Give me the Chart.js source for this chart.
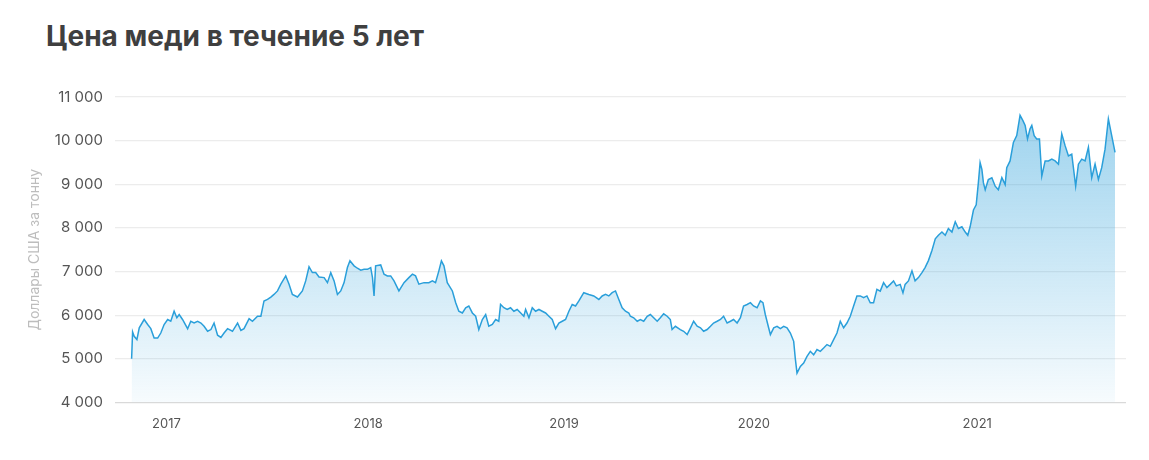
<!DOCTYPE html>
<html lang="ru">
<head>
<meta charset="utf-8">
<title>Цена меди в течение 5 лет</title>
<script src="https://cdn.jsdelivr.net/npm/chart.js@4.4.1/dist/chart.umd.min.js"></script>
<style>
  html, body { margin: 0; padding: 0; background: #fff; }
  .wrap { position: relative; width: 1149px; height: 460px; }
  .title {
    position: absolute; left: 46px; top: 19px;
    font-family: Inter, "Noto Sans", sans-serif; font-weight: 700;
    font-size: 28px; color: #3f3f3f; letter-spacing: 0px;
  }
  canvas { position: absolute; left: 0; top: 0; }
</style>
</head>
<body>
<div class="wrap">
  <div class="title">Цена меди в течение 5 лет</div>
  <canvas id="copper__graph" width="1149" height="460"></canvas>
</div>
<script>
// dates as decimal years, prices in USD per tonne
const dates = [
  2016.822, 2016.827, 2016.835, 2016.849, 2016.861, 2016.886, 2016.904, 2016.920, 2016.937, 2016.955,
  2016.971, 2016.988, 2017.006, 2017.022, 2017.039, 2017.053, 2017.065, 2017.082, 2017.108, 2017.124,
  2017.141, 2017.159, 2017.176, 2017.192, 2017.210, 2017.227, 2017.243, 2017.261, 2017.278, 2017.294,
  2017.312, 2017.337, 2017.363, 2017.380, 2017.396, 2017.422, 2017.439, 2017.465, 2017.482, 2017.498,
  2017.516, 2017.533, 2017.549, 2017.567, 2017.584, 2017.609, 2017.626, 2017.643, 2017.669, 2017.694,
  2017.711, 2017.728, 2017.745, 2017.762, 2017.779, 2017.805, 2017.822, 2017.839, 2017.856, 2017.873,
  2017.890, 2017.907, 2017.924, 2017.937, 2017.958, 2017.975, 2017.992, 2018.009, 2018.026, 2018.043,
  2018.052, 2018.060, 2018.068, 2018.094, 2018.111, 2018.128, 2018.145, 2018.162, 2018.187, 2018.213,
  2018.238, 2018.256, 2018.272, 2018.289, 2018.315, 2018.340, 2018.358, 2018.374, 2018.391, 2018.404,
  2018.417, 2018.434, 2018.460, 2018.477, 2018.493, 2018.511, 2018.528, 2018.544, 2018.562, 2018.579,
  2018.595, 2018.613, 2018.630, 2018.646, 2018.664, 2018.681, 2018.697, 2018.706, 2018.723, 2018.740,
  2018.757, 2018.774, 2018.791, 2018.809, 2018.825, 2018.834, 2018.851, 2018.868, 2018.885, 2018.902,
  2018.919, 2018.936, 2018.953, 2018.970, 2018.987, 2019.004, 2019.021, 2019.038, 2019.055, 2019.072,
  2019.089, 2019.106, 2019.131, 2019.157, 2019.182, 2019.208, 2019.225, 2019.242, 2019.259, 2019.276,
  2019.293, 2019.310, 2019.327, 2019.344, 2019.361, 2019.369, 2019.386, 2019.404, 2019.420, 2019.437,
  2019.455, 2019.471, 2019.488, 2019.506, 2019.522, 2019.539, 2019.557, 2019.573, 2019.582, 2019.599,
  2019.624, 2019.641, 2019.659, 2019.676, 2019.692, 2019.710, 2019.727, 2019.743, 2019.761, 2019.778,
  2019.794, 2019.812, 2019.829, 2019.845, 2019.863, 2019.880, 2019.896, 2019.914, 2019.931, 2019.947,
  2019.965, 2019.982, 2019.998, 2020.016, 2020.033, 2020.046, 2020.058, 2020.075, 2020.084, 2020.101,
  2020.118, 2020.135, 2020.152, 2020.169, 2020.186, 2020.203, 2020.211, 2020.220, 2020.237, 2020.254,
  2020.271, 2020.288, 2020.305, 2020.322, 2020.339, 2020.356, 2020.373, 2020.390, 2020.407, 2020.424,
  2020.441, 2020.458, 2020.475, 2020.492, 2020.509, 2020.526, 2020.543, 2020.560, 2020.577, 2020.594,
  2020.611, 2020.628, 2020.645, 2020.662, 2020.679, 2020.696, 2020.713, 2020.727, 2020.747, 2020.761,
  2020.772, 2020.789, 2020.807, 2020.823, 2020.840, 2020.858, 2020.874, 2020.891, 2020.909, 2020.926,
  2020.942, 2020.960, 2020.977, 2020.993, 2021.011, 2021.028, 2021.044, 2021.062, 2021.079, 2021.092,
  2021.104, 2021.121, 2021.135, 2021.146, 2021.155, 2021.164, 2021.172, 2021.181, 2021.197, 2021.215,
  2021.232, 2021.248, 2021.266, 2021.283, 2021.291, 2021.308, 2021.325, 2021.342, 2021.359, 2021.373,
  2021.385, 2021.397, 2021.410, 2021.419, 2021.431, 2021.444, 2021.458, 2021.470, 2021.487, 2021.504,
  2021.521, 2021.538, 2021.555, 2021.572, 2021.589, 2021.606, 2021.623, 2021.643, 2021.657, 2021.674,
  2021.691, 2021.708, 2021.725, 2021.742, 2021.759, 2021.776, 2021.793, 2021.810, 2021.827, 2021.844
];

const prices = [
  5000, 5615, 5515, 5440, 5710, 5900, 5785, 5690, 5475, 5475,
  5590, 5785, 5900, 5860, 6090, 5940, 6015, 5900, 5690, 5860,
  5820, 5860, 5820, 5745, 5630, 5670, 5820, 5540, 5490, 5590,
  5690, 5630, 5820, 5650, 5690, 5920, 5860, 5975, 5975, 6325,
  6360, 6415, 6475, 6555, 6710, 6900, 6710, 6475, 6415, 6555,
  6785, 7110, 6975, 6975, 6875, 6860, 6745, 6975, 6785, 6475,
  6555, 6745, 7090, 7245, 7130, 7075, 7030, 7050, 7050, 7090,
  6860, 6440, 7130, 7150, 6940, 6900, 6900, 6785, 6555, 6745,
  6860, 6940, 6900, 6710, 6745, 6745, 6785, 6745, 7015, 7245,
  7130, 6745, 6555, 6285, 6090, 6050, 6170, 6210, 6050, 5975,
  5670, 5900, 6015, 5745, 5785, 5900, 5860, 6245, 6170, 6130,
  6170, 6090, 6130, 6050, 5975, 6130, 5940, 6170, 6090, 6130,
  6090, 6050, 5975, 5900, 5690, 5820, 5860, 5900, 6090, 6245,
  6210, 6325, 6515, 6475, 6440, 6360, 6440, 6475, 6440, 6515,
  6555, 6360, 6170, 6090, 6050, 5975, 5940, 5860, 5900, 5860,
  5975, 6015, 5940, 5860, 5940, 6030, 5975, 5900, 5670, 5745,
  5670, 5630, 5555, 5710, 5860, 5745, 5710, 5630, 5670, 5745,
  5820, 5860, 5900, 5975, 5820, 5860, 5900, 5820, 5940, 6210,
  6245, 6285, 6210, 6170, 6325, 6285, 6015, 5710, 5555, 5710,
  5745, 5690, 5745, 5710, 5590, 5400, 5015, 4670, 4825, 4900,
  5055, 5170, 5090, 5210, 5170, 5245, 5325, 5285, 5440, 5590,
  5860, 5710, 5820, 5975, 6210, 6440, 6440, 6400, 6440, 6285,
  6285, 6590, 6550, 6745, 6630, 6705, 6785, 6670, 6705, 6510,
  6705, 6785, 7015, 6785, 6860, 6975, 7090, 7250, 7480, 7750,
  7830, 7905, 7830, 7985, 7905, 8140, 7985, 8025, 7905, 7830,
  8025, 8410, 8530, 9030, 9495, 9340, 9030, 8875, 9110, 9150,
  8955, 8875, 9150, 8990, 9380, 9535, 9960, 10115, 10580, 10465,
  10350, 10040, 10270, 10350, 10115, 10040, 10040, 9185, 9535, 9535,
  9575, 9535, 9460, 10155, 9885, 9650, 9690, 8955, 9460, 9575,
  9535, 9845, 9150, 9460, 9110, 9380, 9805, 10500, 10115, 9730
];

const tickYears = [2017, 2018.03, 2019.03, 2020, 2021.14];
const tickLabels = ['2017', '2018', '2019', '2020', '2021'];

const ctxCopper = document.getElementById('copper__graph').getContext('2d');

const fmt = v => String(v).replace(/\B(?=(\d{3})+(?!\d))/g, ' ');

const copperChart = new Chart(ctxCopper, {
    type: 'line',
    data: {
        datasets: [{
            label: 'Цена меди',
            data: dates.map((d, i) => ({ x: d, y: prices[i] })),
            borderColor: '#2a9fda',
            borderWidth: 1.5,
            pointRadius: 0,
            tension: 0,
            fill: 'start',
            backgroundColor: (c) => {
                const area = c.chart.chartArea;
                if (!area) return 'rgba(42, 159, 218, 0.2)';
                const g = c.chart.ctx.createLinearGradient(0, area.top, 0, area.bottom);
                g.addColorStop(0, 'rgba(42, 159, 218, 0.48)');
                g.addColorStop(1, 'rgba(42, 159, 218, 0.04)');
                return g;
            }
        }]
    },
    options: {
        responsive: false,
        animation: false,
        layout: {
            padding: { top: 97, right: 23, bottom: 22, left: 26 }
        },
        plugins: {
            legend: { display: false },
            tooltip: { enabled: false }
        },
        scales: {
            x: {
                type: 'linear',
                min: 2016.737,
                max: 2021.90,
                afterBuildTicks: (axis) => {
                    axis.ticks = tickYears.map(v => ({ value: v }));
                },
                ticks: {
                    color: '#555',
                    font: { family: 'Inter, "Noto Sans", sans-serif', size: 13 },
                    padding: 6,
                    maxRotation: 0,
                    autoSkip: false,
                    callback: (v, i) => tickLabels[i]
                },
                grid: { display: false },
                border: { display: false }
            },
            y: {
                min: 4000,
                max: 11000,
                ticks: {
                    stepSize: 1000,
                    color: '#555',
                    font: { family: 'Inter, "Noto Sans", sans-serif', size: 15 },
                    padding: 12,
                    callback: v => fmt(v)
                },
                grid: {
                    color: (c) => c.tick && c.tick.value === 4000 ? '#d9d9d9' : '#ececec',
                    lineWidth: 1.2,
                    drawTicks: false
                },
                border: { display: false },
                title: {
                    display: true,
                    text: 'Доллары США за тонну',
                    color: '#bdbdbd',
                    font: { family: 'Inter, "Noto Sans", sans-serif', size: 14 },
                    padding: { top: 0, bottom: 0 }
                }
            }
        }
    }
});
</script>
</body>
</html>
